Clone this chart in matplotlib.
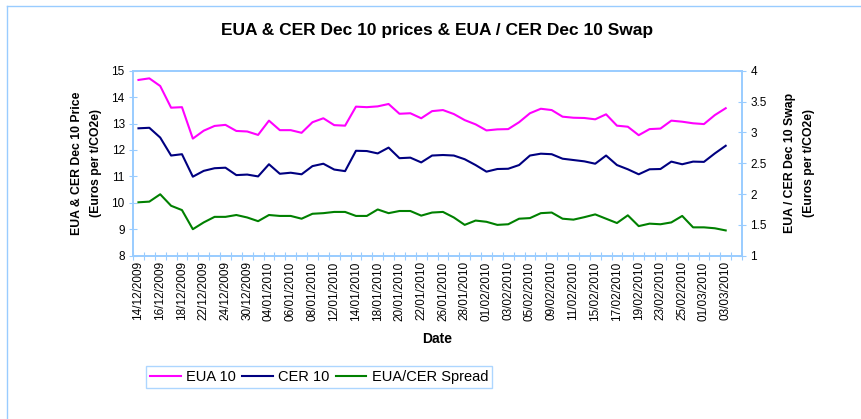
import matplotlib
matplotlib.use("Agg")
import matplotlib.pyplot as plt
from matplotlib.lines import Line2D

plt.rcParams['font.family'] = ['Liberation Sans', 'DejaVu Sans']

# trading days on the category axis (last one has no data)
dates = [
    "14/12/2009", "15/12/2009", "16/12/2009", "17/12/2009", "18/12/2009",
    "21/12/2009", "22/12/2009", "23/12/2009", "24/12/2009", "29/12/2009",
    "30/12/2009", "31/12/2009", "04/01/2010", "05/01/2010", "06/01/2010",
    "07/01/2010", "08/01/2010", "11/01/2010", "12/01/2010", "13/01/2010",
    "14/01/2010", "15/01/2010", "18/01/2010", "19/01/2010", "20/01/2010",
    "21/01/2010", "22/01/2010", "25/01/2010", "26/01/2010", "27/01/2010",
    "28/01/2010", "29/01/2010", "01/02/2010", "02/02/2010", "03/02/2010",
    "04/02/2010", "05/02/2010", "08/02/2010", "09/02/2010", "10/02/2010",
    "11/02/2010", "12/02/2010", "15/02/2010", "16/02/2010", "17/02/2010",
    "18/02/2010", "19/02/2010", "22/02/2010", "23/02/2010", "24/02/2010",
    "25/02/2010", "26/02/2010", "01/03/2010", "02/03/2010", "03/03/2010",
    "04/03/2010",
]

eua = [14.65, 14.71, 14.42, 13.60, 13.62, 12.43, 12.73, 12.91, 12.95, 12.72,
       12.70, 12.57, 13.11, 12.75, 12.75, 12.65, 13.05, 13.20, 12.94, 12.92,
       13.64, 13.62, 13.65, 13.74, 13.37, 13.39, 13.20, 13.47, 13.51, 13.36,
       13.13, 12.97, 12.74, 12.78, 12.79, 13.05, 13.39, 13.56, 13.51, 13.26,
       13.22, 13.21, 13.16, 13.35, 12.92, 12.88, 12.56, 12.79, 12.81, 13.11,
       13.07, 13.01, 12.98, 13.32, 13.58]

cer = [12.82, 12.84, 12.47, 11.79, 11.84, 10.99, 11.21, 11.31, 11.33, 11.05,
       11.07, 11.00, 11.46, 11.10, 11.14, 11.08, 11.39, 11.48, 11.26, 11.20,
       11.97, 11.96, 11.87, 12.09, 11.69, 11.71, 11.53, 11.79, 11.81, 11.79,
       11.65, 11.43, 11.18, 11.28, 11.29, 11.43, 11.79, 11.86, 11.84, 11.67,
       11.62, 11.57, 11.48, 11.79, 11.43, 11.27, 11.08, 11.27, 11.28, 11.56,
       11.46, 11.56, 11.55, 11.87, 12.16]

spread = [1.866, 1.877, 1.996, 1.81, 1.74, 1.43, 1.54, 1.63, 1.63, 1.66,
          1.62, 1.56, 1.66, 1.645, 1.645, 1.60, 1.68, 1.69, 1.71, 1.71,
          1.645, 1.645, 1.75, 1.69, 1.725, 1.725, 1.65, 1.70, 1.71, 1.62,
          1.50, 1.57, 1.55, 1.50, 1.51, 1.60, 1.61, 1.69, 1.70, 1.60,
          1.585, 1.625, 1.67, 1.60, 1.53, 1.655, 1.48, 1.52, 1.51, 1.54,
          1.645, 1.46, 1.46, 1.445, 1.41]

left_ticks = [8, 9, 10, 11, 12, 13, 14, 15]
right_ticks = [1, 1.5, 2, 2.5, 3, 3.5, 4]
right_labels = ["1", "1.5", "2", "2.5", "3", "3.5", "4"]

AXIS_BLUE = "#99ccff"
FS = 8.5

fig = plt.figure(figsize=(8.61, 4.19), dpi=100)
ax = fig.add_axes([0.1545, 0.3897, 0.7073, 0.4416])
ax2 = ax.twinx()

x = list(range(len(eua)))
l1, = ax.plot(x, eua, color="#ff00ff", lw=1.5, solid_joinstyle="round", label="EUA 10")
l2, = ax.plot(x, cer, color="#000080", lw=1.5, solid_joinstyle="round", label="CER 10")
l3, = ax2.plot(x, spread, color="#008000", lw=1.5, solid_joinstyle="round", label="EUA/CER Spread")

n = len(dates)
ax.set_xlim(-0.5, n - 0.5)
ax.set_ylim(8, 15)
ax2.set_ylim(1, 4)

# tick marks on category boundaries, labels on every other category
ax.set_xticks([i - 0.5 for i in range(n + 1)])
ax.set_xticklabels([])
ax.set_xticks(list(range(0, n - 1, 2)), [dates[i] for i in range(0, n - 1, 2)],
              minor=True, rotation=90, fontsize=FS)
ax.tick_params(axis="x", which="major", direction="inout", length=6, color=AXIS_BLUE)
ax.tick_params(axis="x", which="minor", length=0, pad=4)

ax.set_yticks(left_ticks)
ax.set_yticklabels([str(t) for t in left_ticks], fontsize=FS)
ax.tick_params(axis="y", direction="inout", length=6, color=AXIS_BLUE, pad=3)
ax2.set_yticks(right_ticks)
ax2.set_yticklabels(right_labels, fontsize=FS)
ax2.tick_params(axis="y", direction="inout", length=6, color=AXIS_BLUE, pad=3)

for a in (ax, ax2):
    for s in a.spines.values():
        s.set_color(AXIS_BLUE)
        s.set_linewidth(1.2)

ax.set_ylabel("EUA & CER Dec 10 Price\n(Euros per t/CO2e)", fontsize=8.8,
              fontweight="bold", labelpad=7, linespacing=1.8)
ax2.set_ylabel("EUA / CER Dec 10 Swap\n(Euros per t/CO2e)", fontsize=8.8,
               fontweight="bold", labelpad=12.5, linespacing=1.8)
ax.set_xlabel("Date", fontsize=10, fontweight="bold", labelpad=8)

fig.text(0.508, 0.928, "EUA & CER Dec 10 prices & EUA / CER Dec 10 Swap",
         ha="center", va="center", fontsize=12.5, fontweight="bold")

leg = fig.legend(handles=[l1, l2, l3], loc="center", bbox_to_anchor=(0.3705, 0.1),
                 ncol=3, fontsize=10.5, frameon=True, fancybox=False,
                 handlelength=2.1, handletextpad=0.35, columnspacing=0.45,
                 borderpad=0.3, borderaxespad=0)
leg.get_frame().set_edgecolor(AXIS_BLUE)
leg.get_frame().set_linewidth(1.0)

# outer chart frame (runs off the right and bottom edge)
top = 1 - 6 / 419
left = 6.5 / 861
fig.add_artist(Line2D([left, left], [0, top], color=AXIS_BLUE, lw=1.0))
fig.add_artist(Line2D([left, 1], [top, top], color=AXIS_BLUE, lw=1.0))

fig.savefig("out.png", dpi=100)
